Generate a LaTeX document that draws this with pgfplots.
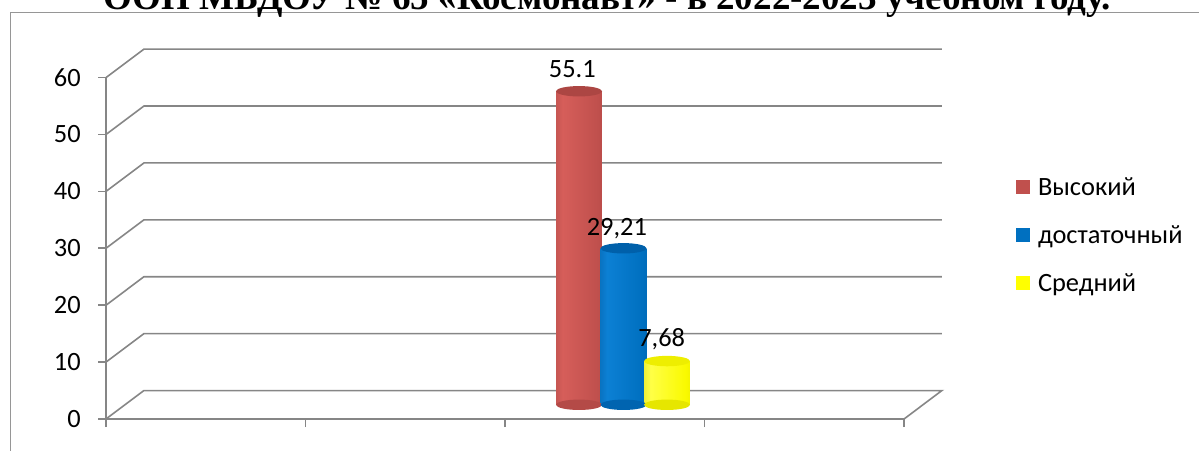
\documentclass[border=0pt]{standalone}
\usepackage{fontspec}
\setmainfont{Carlito}
\newfontfamily\titlefont{Liberation Serif}
\usepackage{pgfplots}
\pgfplotsset{compat=1.18}

\definecolor{gridgray}{RGB}{134,134,134}
\definecolor{framegray}{RGB}{150,150,150}
\definecolor{redA}{RGB}{140,56,54}
\definecolor{redB}{RGB}{214,94,90}
\definecolor{redC}{RGB}{192,80,77}
\definecolor{redD}{RGB}{160,64,61}
\definecolor{redtop}{RGB}{172,70,67}
\definecolor{redbot}{RGB}{180,74,71}
\definecolor{blueA}{RGB}{0,72,130}
\definecolor{blueB}{RGB}{12,128,212}
\definecolor{blueC}{RGB}{0,112,192}
\definecolor{blueD}{RGB}{0,88,158}
\definecolor{bluetop}{RGB}{0,96,170}
\definecolor{bluebot}{RGB}{0,100,176}
\definecolor{yelA}{RGB}{185,185,0}
\definecolor{yelB}{RGB}{255,255,70}
\definecolor{yelC}{RGB}{250,250,0}
\definecolor{yelD}{RGB}{210,210,0}
\definecolor{yeltop}{RGB}{238,238,0}
\definecolor{yelbot}{RGB}{230,230,0}
\definecolor{legred}{RGB}{192,80,77}
\definecolor{legblue}{RGB}{0,112,192}
\definecolor{legyel}{RGB}{255,255,0}

\pgfdeclarehorizontalshading{redcyl}{100bp}{color(0bp)=(redA); color(32bp)=(redB); color(70bp)=(redC); color(100bp)=(redD)}
\pgfdeclarehorizontalshading{bluecyl}{100bp}{color(0bp)=(blueA); color(32bp)=(blueB); color(70bp)=(blueC); color(100bp)=(blueD)}
\pgfdeclarehorizontalshading{yelcyl}{100bp}{color(0bp)=(yelA); color(32bp)=(yelB); color(70bp)=(yelC); color(100bp)=(yelD)}

\pgfdeclareplotmark{cylell}{%
  \pgfpathellipse{\pgfpointorigin}{\pgfqpoint{17.25pt}{0pt}}{\pgfqpoint{0pt}{3.9pt}}%
  \pgfusepathqfill}

\begin{document}
\begin{tikzpicture}
\path[use as bounding box] (-79.5pt,-23.25pt) rectangle (819.75pt,314.25pt);
\begin{axis}[
  at={(0pt,0pt)}, anchor=south west,
  disabledatascaling,
  x=149.625pt, y=4.2675pt,
  xmin=0, xmax=4, ymin=0, ymax=60,
  clip=false,
  axis x line*=bottom, axis y line*=left,
  axis line style={gridgray, line width=1.2pt},
  xtick={0,1,2,3,4}, xticklabels={},
  ytick={0,10,20,30,40,50,60},
  tick align=outside, major tick length=6pt,
  tick style={gridgray, line width=1.2pt},
  /pgf/number format/assume math mode=true,
  yticklabel style={font=\fontsize{19.8}{23}\selectfont, anchor=east, inner sep=0pt, xshift=-12.75pt},
  legend style={at={(1.1404,0.7596)}, anchor=north west, draw=none, fill=none,
    inner sep=0pt, outer sep=0pt, font=\fontsize{19.8}{23}\selectfont,
    row sep=0pt, column sep=6pt,
    nodes={inner sep=0pt, text height=27pt, text depth=9pt}},
  legend image code/.code={\fill[#1, draw=none] (0pt,-7.5pt) rectangle (10.5pt,3pt);},
  legend cell align=left,
  every node near coord/.append style={font=\fontsize{19.8}{23}\selectfont, text=black, anchor=base},
]
% pseudo-3D walls and gridlines
\addplot[gridgray, line width=1.2pt, forget plot] coordinates {(0,0) (0.19,5) (4.19,5) (4,0)};
\addplot[gridgray, line width=1.2pt, forget plot] coordinates {(0,10) (0.19,15) (4.19,15)};
\addplot[gridgray, line width=1.2pt, forget plot] coordinates {(0,20) (0.19,25) (4.19,25)};
\addplot[gridgray, line width=1.2pt, forget plot] coordinates {(0,30) (0.19,35) (4.19,35)};
\addplot[gridgray, line width=1.2pt, forget plot] coordinates {(0,40) (0.19,45) (4.19,45)};
\addplot[gridgray, line width=1.2pt, forget plot] coordinates {(0,50) (0.19,55) (4.19,55)};
\addplot[gridgray, line width=1.2pt, forget plot] coordinates {(0,60) (0.19,65) (4.19,65)};

% Высокий: 55.1 (base at depth middle y=2.5)
\addplot[only marks, mark=cylell, mark options={fill=redbot}, forget plot] coordinates {(2.371,2.5)};
\addplot[draw=none, shade, shading=redcyl, forget plot] coordinates {(2.256,2.5) (2.486,2.5) (2.486,57.6) (2.256,57.6)} --cycle;
\addplot[only marks, mark=cylell, mark options={fill=redtop}, forget plot,
  nodes near coords={55.1}, every node near coord/.append style={xshift=-5pt, yshift=10pt}] coordinates {(2.371,57.6)};

% достаточный: drawn height 27.5, labelled 29,21
\addplot[only marks, mark=cylell, mark options={fill=bluebot}, forget plot] coordinates {(2.594,2.5)};
\addplot[draw=none, shade, shading=bluecyl, forget plot] coordinates {(2.479,2.5) (2.709,2.5) (2.709,30.0) (2.479,30.0)} --cycle;
\addplot[only marks, mark=cylell, mark options={fill=bluetop}, forget plot,
  nodes near coords={29,21}, every node near coord/.append style={xshift=-5pt, yshift=9.4pt}] coordinates {(2.594,30.0)};

% Средний: 7.68
\addplot[only marks, mark=cylell, mark options={fill=yelbot}, forget plot] coordinates {(2.812,2.5)};
\addplot[draw=none, shade, shading=yelcyl, forget plot] coordinates {(2.697,2.5) (2.927,2.5) (2.927,10.18) (2.697,10.18)} --cycle;
\addplot[only marks, mark=cylell, mark options={fill=yeltop}, forget plot,
  nodes near coords={7,68}, every node near coord/.append style={xshift=-4pt, yshift=10.9pt}] coordinates {(2.812,10.18)};

\addlegendimage{fill=legred}
\addlegendentry{Высокий}
\addlegendimage{fill=legblue}
\addlegendentry{достаточный}
\addlegendimage{fill=legyel}
\addlegendentry{Средний}
\end{axis}
% outer frame and (cut-off) title
\draw[framegray, line width=1.2pt] (-71.5pt,-30pt) -- (-71.5pt,304.9pt) -- (830pt,304.9pt);
\node[anchor=base, inner sep=0pt, font=\titlefont\bfseries\fontsize{27.8}{30}\selectfont] at (375.75pt,307.3pt)
  {ООП МБДОУ № 65 «Космонавт» - в 2022-2023 учебном году.};
\end{tikzpicture}
\end{document}
